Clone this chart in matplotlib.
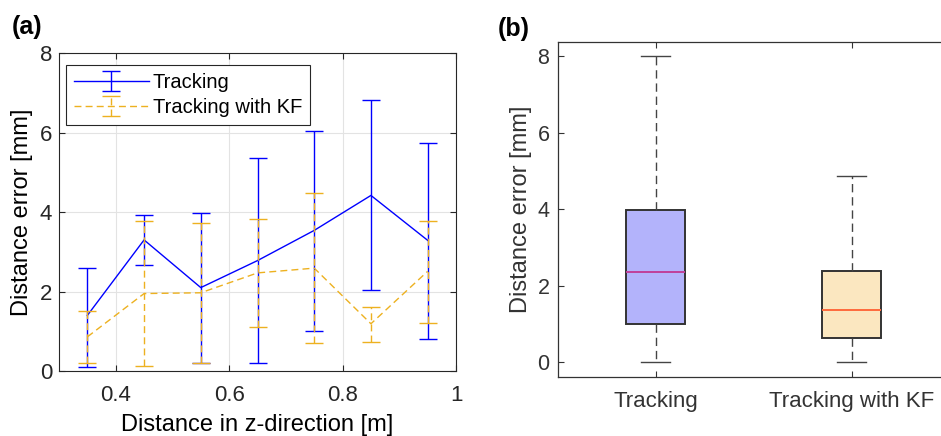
import matplotlib
matplotlib.use("Agg")
import matplotlib.pyplot as plt

plt.rcParams['font.family'] = ['Liberation Sans', 'DejaVu Sans']

# ---- data: panel (a) ----
z_dist = [0.35, 0.45, 0.55, 0.65, 0.75, 0.85, 0.95]
trk_mean = [1.40, 3.30, 2.10, 2.78, 3.54, 4.42, 3.29]
trk_low = [0.11, 2.66, 0.19, 0.20, 1.00, 2.03, 0.80]
trk_high = [2.59, 3.92, 3.97, 5.36, 6.03, 6.83, 5.74]
kf_mean = [0.86, 1.95, 1.97, 2.47, 2.59, 1.19, 2.51]
kf_low = [0.20, 0.13, 0.21, 1.11, 0.70, 0.73, 1.22]
kf_high = [1.51, 3.77, 3.72, 3.82, 4.48, 1.61, 3.77]
series_labels = ["Tracking", "Tracking with KF"]

# ---- data: panel (b) ----
box_labels = ["Tracking", "Tracking with KF"]
box_q1 = [1.00, 0.65]
box_med = [2.35, 1.38]
box_q3 = [3.97, 2.38]
box_wlo = [0.0, 0.0]
box_whi = [8.0, 4.87]

BLUE = '#0000ff'
ORANGE = '#edb120'
DARK = '#262626'

fig = plt.figure(figsize=(9.41, 4.36), dpi=100)

# ---------- (a) ----------
ax1 = fig.add_axes([0.0627, 0.149, 0.4219, 0.729])
e1 = ax1.errorbar(z_dist, trk_mean,
                  yerr=[[m - l for m, l in zip(trk_mean, trk_low)],
                        [h - m for m, h in zip(trk_mean, trk_high)]],
                  color=BLUE, lw=1.0, elinewidth=1.0, capsize=6.5, capthick=1.0,
                  label=series_labels[0], zorder=3)
e2 = ax1.errorbar(z_dist, kf_mean,
                  yerr=[[m - l for m, l in zip(kf_mean, kf_low)],
                        [h - m for m, h in zip(kf_mean, kf_high)]],
                  color=ORANGE, lw=1.0, elinewidth=1.0, capsize=6.5, capthick=1.0,
                  linestyle=(0, (5, 3)), label=series_labels[1], zorder=4)
for lc in e2[2]:
    lc.set_linestyle((0, (5, 3)))

ax1.set_xlim(0.3, 1.0)
ax1.set_ylim(0, 8)
ax1.set_xticks([0.4, 0.6, 0.8, 1.0])
ax1.set_xticklabels(['0.4', '0.6', '0.8', '1'])
ax1.set_yticks([0, 2, 4, 6, 8])
ax1.grid(True, color='#e3e3e3', lw=0.8)
ax1.set_axisbelow(True)
ax1.tick_params(direction='in', length=4, width=0.8, top=True, right=True,
                labelsize=16, colors=DARK, pad=5)
ax1.tick_params(axis='x', pad=10)
for s in ax1.spines.values():
    s.set_color(DARK)
    s.set_linewidth(0.8)
ax1.set_xlabel("Distance in z-direction [m]", fontsize=17, color='black', labelpad=6)
ax1.set_ylabel("Distance error [mm]", fontsize=17, color='black', labelpad=5)
leg = ax1.legend(loc='upper left', bbox_to_anchor=(0.0176, 0.962), fontsize=14.5,
                 fancybox=False, framealpha=1, edgecolor=DARK, borderpad=0.4,
                 handlelength=3.7, handletextpad=0.2, labelspacing=0.3,
                 borderaxespad=0)
leg.get_frame().set_linewidth(0.8)
fig.text(0.013, 0.937, "(a)", fontsize=18, fontweight='bold', va='center', ha='left')

# ---------- (b) ----------
ax2 = fig.add_axes([0.5927, 0.1353, 0.4166, 0.769])
stats = []
for i in range(len(box_labels)):
    stats.append(dict(label=box_labels[i], q1=box_q1[i], med=box_med[i], q3=box_q3[i],
                      whislo=box_wlo[i], whishi=box_whi[i], fliers=[]))
bp = ax2.bxp(stats, positions=[1, 2], widths=0.3, patch_artist=True, showfliers=False,
             boxprops=dict(edgecolor='#333333', linewidth=1.4),
             whiskerprops=dict(color='#444444', linewidth=1.0, linestyle=(0, (6, 3.5))),
             capprops=dict(color='#444444', linewidth=1.0),
             capwidths=0.15,
             medianprops=dict(linewidth=1.4))
fills = ['#b3b3fb', '#fbe7c0']
meds = ['#c0409a', '#ff6a3d']
for patch, fc in zip(bp['boxes'], fills):
    patch.set_facecolor(fc)
for m, c in zip(bp['medians'], meds):
    m.set_color(c)
ax2.set_xlim(0.5, 2.5)
ax2.set_ylim(-0.38, 8.37)
ax2.set_yticks([0, 2, 4, 6, 8])
ax2.set_xticks([1, 2])
ax2.set_xticklabels(box_labels)
ax2.tick_params(direction='in', length=4, width=0.8, top=True, right=False,
                labelsize=15.5, colors='#333333', pad=6)
ax2.tick_params(axis='x', pad=10, labelsize=16)
for s in ax2.spines.values():
    s.set_color('#333333')
    s.set_linewidth(0.9)
ax2.set_ylabel("Distance error [mm]", fontsize=17, color='#333333', labelpad=4)
fig.text(0.529, 0.934, "(b)", fontsize=18, fontweight='bold', va='center', ha='left')

fig.savefig("out.png", dpi=100)
